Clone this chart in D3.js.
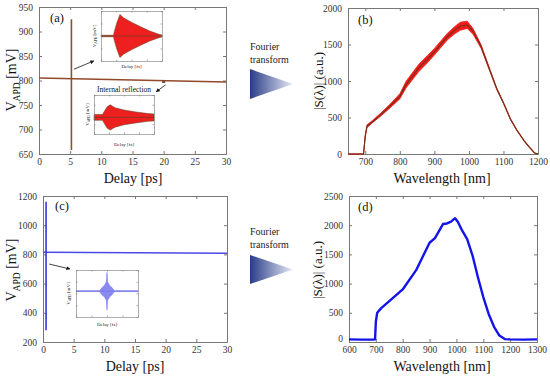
<!DOCTYPE html>
<html>
<head>
<meta charset="utf-8">
<script src="https://cdn.jsdelivr.net/npm/d3@7"></script>
<style>
body{margin:0;background:#fff}
svg text{font-family:"Liberation Serif","Times New Roman",serif}
</style>
</head>
<body>
<svg></svg>
<script>
const WIDTH = 550;
const HEIGHT = 378;
const FONT = '"Liberation Serif", "Times New Roman", serif';

// (a) delay scan, red/brown trace
const aBaseDelay = [0, 30];
const aBaseV = [805, 797];
const aSpikeDelay = [5.2, 5.2];
const aSpikeV = [925, 658];
const aMarkDelay = [20];
const aMarkV = [798];
const aXTicks = [0, 5, 10, 15, 20, 25, 30];
const aYTicks = [650, 700, 750, 800, 850, 900, 950];

// (c) delay scan, blue trace
const cBaseDelay = [0, 30];
const cBaseV = [815, 808];
const cSpikeDelay = [0.5, 0.5];
const cSpikeV = [1160, 280];
const cXTicks = [0, 5, 10, 15, 20, 25, 30];
const cYTicks = [200, 400, 600, 800, 1000, 1200];

// (b) spectrum
const bWl = [650, 690, 695, 700, 705, 720, 745, 770, 800, 818, 855, 880, 900, 938, 960, 975, 995, 1012, 1035, 1062, 1080, 1100, 1120, 1138, 1160, 1173, 1190, 1200];
const bS = [0, 0, 0, 250, 380, 440, 540, 650, 790, 950, 1180, 1300, 1400, 1610, 1700, 1750, 1770, 1680, 1475, 1130, 900, 700, 480, 333, 180, 105, 14, 0];
const bSpread = [0, 0, 0, 10, 20, 15, 20, 25, 35, 45, 50, 50, 45, 45, 50, 55, 50, 40, 25, 15, 10, 8, 8, 6, 5, 5, 3, 0];
const bXTicks = [700, 800, 900, 1000, 1100, 1200];
const bYTicks = [0, 500, 1000, 1500, 2000];

// (d) spectrum
const dWl = [600, 650, 690, 697, 700, 705, 720, 750, 800, 850, 900, 920, 950, 965, 980, 995, 1005, 1020, 1040, 1060, 1080, 1100, 1120, 1140, 1160, 1180, 1200, 1250, 1300];
const dS = [45, 40, 40, 45, 350, 500, 580, 700, 900, 1230, 1700, 1780, 2020, 2030, 2060, 2120, 2060, 1920, 1760, 1480, 1110, 770, 480, 260, 110, 50, 45, 40, 45];
const dXTicks = [600, 700, 800, 900, 1000, 1100, 1200, 1300];
const dYTicks = [0, 500, 1000, 1500, 2000, 2500];

// insets: delay [fs] vs envelope half-amplitude [mV]
const in1T = [0, 82, 86, 105, 124, 150, 200, 260, 320, 380, 400];
const in1Amp = [3, 3, 15, 55, 86, 72, 55, 37, 20, 7, 4];
const in2T = [0, 56, 68, 88, 108, 140, 200, 280, 360, 400];
const in2Amp = [15, 15, 30, 55, 65, 50, 38, 28, 20, 18];
const in3T = [0, 150, 160, 170, 184, 196, 200, 204, 216, 230, 240, 250, 400];
const in3Amp = [2, 2, 8, 17, 25, 40, 80, 40, 25, 17, 8, 2, 2];

const svg = d3.select('svg').
attr('width', WIDTH).
attr('height', HEIGHT).
attr('font-family', FONT);

svg.append('rect').attr('width', WIDTH).attr('height', HEIGHT).attr('fill', '#fff');

const defs = svg.append('defs');
defs.append('marker').
attr('id', 'head').
attr('viewBox', '0 0 10 10').
attr('refX', 9).attr('refY', 5).
attr('markerWidth', 5).attr('markerHeight', 5).
attr('orient', 'auto').
append('path').attr('d', 'M0,0L10,5L0,10Z').attr('fill', '#111');

const grad = defs.append('linearGradient').attr('id', 'tri');
grad.append('stop').attr('offset', '0%').attr('stop-color', '#2a3c88');
grad.append('stop').attr('offset', '100%').attr('stop-color', '#e6eaf5');

const fmt = d3.format('d');

function frame(g, x, y, xTicks, yTicks, o) {
  const fs = o.fs || 9.5;
  const k = o.tick || 3;
  const x0 = x.range()[0], x1 = x.range()[1];
  const y0 = y.range()[1], y1 = y.range()[0];

  const axB = d3.axisBottom(x).tickSizeInner(-k).tickSizeOuter(0).tickPadding(o.padX || 4).tickFormat(fmt);
  const axL = d3.axisLeft(y).tickSizeInner(-k).tickSizeOuter(0).tickPadding(o.padY || 6).tickFormat(fmt);
  if (xTicks) axB.tickValues(xTicks); else axB.ticks(5);
  if (yTicks) axL.tickValues(yTicks); else axL.ticks(6);
  if (o.noLabels) { axB.tickFormat(''); axL.tickFormat(''); }

  const axT = d3.axisTop(x).tickSizeInner(-k).tickSizeOuter(0).tickFormat('');
  const axR = d3.axisRight(y).tickSizeInner(-k).tickSizeOuter(0).tickFormat('');
  if (xTicks) axT.tickValues(xTicks); else axT.ticks(5);
  if (yTicks) axR.tickValues(yTicks); else axR.ticks(6);

  const parts = [
    g.append('g').attr('transform', `translate(0,${y1})`).call(axB),
    g.append('g').attr('transform', `translate(${x0},0)`).call(axL),
    g.append('g').attr('transform', `translate(0,${y0})`).call(axT),
    g.append('g').attr('transform', `translate(${x1},0)`).call(axR)];

  parts.forEach(p => {
    p.attr('font-family', FONT);
    p.selectAll('path').attr('stroke', '#777').attr('stroke-width', o.sw || 1);
    p.selectAll('line').attr('stroke', '#777').attr('stroke-width', o.sw || 1);
    p.selectAll('text').attr('font-size', fs).attr('fill', '#333');
  });
  return parts;
}

function yLabel(g, cx, cy, size, parts) {
  const t = g.append('text').
  attr('transform', `translate(${cx},${cy}) rotate(-90)`).
  attr('text-anchor', 'middle').
  attr('font-size', size).
  attr('fill', '#111');
  parts(t);
}

function vapd(t, size) {
  t.append('tspan').text('V');
  t.append('tspan').attr('font-size', size * 0.68).attr('dy', size * 0.25).text('APD');
  t.append('tspan').attr('dy', -size * 0.25).text(' [mV]');
}

function scan(box, xDom, yDom) {
  return {
    x: d3.scaleLinear().domain(xDom).range([box[0], box[1]]),
    y: d3.scaleLinear().domain(yDom).range([box[3], box[2]])
  };
}

const line = (x, y) => d3.line().x(d => x(d[0])).y(d => y(d[1]));

/* -- (a) -- */
{
  const { x, y } = scan([39, 226, 7, 154], [0, 30], [650, 950]);
  const g = svg.append('g');
  frame(g, x, y, aXTicks, aYTicks, {});
  g.append('path').datum(d3.zip(aBaseDelay, aBaseV)).
  attr('d', line(x, y)).attr('fill', 'none').attr('stroke', '#93472b').attr('stroke-width', 1.4);
  g.append('path').datum(d3.zip(aSpikeDelay, aSpikeV)).
  attr('d', line(x, y)).attr('fill', 'none').attr('stroke', '#85562a').attr('stroke-width', 1.6);
  g.selectAll('rect.mk').data(d3.zip(aMarkDelay, aMarkV)).enter().append('rect').
  attr('x', d => x(d[0]) - 1.5).attr('y', d => y(d[1]) - 1.5).
  attr('width', 3).attr('height', 3).attr('fill', '#7b4a2c');

  g.append('text').attr('x', 50).attr('y', 22).attr('font-size', 12.5).attr('fill', '#111').text('(a)');
  g.append('text').attr('x', 133).attr('y', 183).attr('text-anchor', 'middle').
  attr('font-size', 14).attr('fill', '#111').text('Delay [ps]');
  yLabel(g, 16, 80, 14, t => vapd(t, 14));

  g.append('line').
  attr('x1', x(5.6)).attr('y1', y(823)).attr('x2', x(8.8)).attr('y2', y(840)).
  attr('stroke', '#111').attr('stroke-width', 0.8).attr('marker-end', 'url(#head)');
  g.append('line').
  attr('x1', x(20.3)).attr('y1', y(791)).attr('x2', x(18.8)).attr('y2', y(777)).
  attr('stroke', '#111').attr('stroke-width', 0.8).attr('marker-end', 'url(#head)');
}

/* -- (c) -- */
{
  const { x, y } = scan([43, 227, 196, 342], [0, 30], [200, 1200]);
  const g = svg.append('g');
  frame(g, x, y, cXTicks, cYTicks, {});
  g.append('path').datum(d3.zip(cBaseDelay, cBaseV)).
  attr('d', line(x, y)).attr('fill', 'none').attr('stroke', '#4a4ae6').attr('stroke-width', 1.4);
  g.append('path').datum(d3.zip(cSpikeDelay, cSpikeV)).
  attr('d', line(x, y)).attr('fill', 'none').attr('stroke', '#3535dd').attr('stroke-width', 1.6);

  g.append('text').attr('x', 55).attr('y', 210).attr('font-size', 12.5).attr('fill', '#111').text('(c)');
  g.append('text').attr('x', 135).attr('y', 371).attr('text-anchor', 'middle').
  attr('font-size', 14).attr('fill', '#111').text('Delay [ps]');
  yLabel(g, 16, 270, 14, t => vapd(t, 14));

  g.append('line').
  attr('x1', x(1.0)).attr('y1', y(734)).attr('x2', x(4.4)).attr('y2', y(700)).
  attr('stroke', '#111').attr('stroke-width', 0.8).attr('marker-end', 'url(#head)');
}

/* -- (b) -- */
{
  const { x, y } = scan([348, 538, 8, 154], [650, 1200], [0, 2000]);
  const g = svg.append('g');
  frame(g, x, y, bXTicks, bYTicks, {});
  const pts = d3.zip(bWl, bS, bSpread);
  g.append('path').datum(pts).
  attr('d', d3.area().x(d => x(d[0])).y0(d => y(d[1] - d[2])).y1(d => y(d[1] + d[2]))).
  attr('fill', '#f21c1c').attr('stroke', '#f21c1c').attr('stroke-width', 0.8);
  g.append('path').datum(pts).
  attr('d', line(x, y)).attr('fill', 'none').attr('stroke', '#6e3318').attr('stroke-width', 1.1);

  g.append('text').attr('x', 358).attr('y', 24).attr('font-size', 12.5).attr('fill', '#111').text('(b)');
  g.append('text').attr('x', 442).attr('y', 183).attr('text-anchor', 'middle').
  attr('font-size', 14).attr('fill', '#111').text('Wavelength [nm]');
  yLabel(g, 323, 81, 13, t => t.text('|S(λ)| (a.u.)'));
}

/* -- (d) -- */
{
  const { x, y } = scan([349, 537, 196, 342], [600, 1300], [0, 2500]);
  const g = svg.append('g');
  const parts = frame(g, x, y, dXTicks, dYTicks, {});
  // lift the "0" label a little so it clears the "600" below it
  parts[1].selectAll('text').filter(d => d === 0).attr('dy', '-0.05em');
  g.append('path').datum(d3.zip(dWl, dS)).
  attr('d', line(x, y)).attr('fill', 'none').attr('stroke', '#1414e8').attr('stroke-width', 2.4).
  attr('stroke-linejoin', 'round');

  g.append('text').attr('x', 358).attr('y', 211).attr('font-size', 12.5).attr('fill', '#111').text('(d)');
  g.append('text').attr('x', 442).attr('y', 371).attr('text-anchor', 'middle').
  attr('font-size', 14).attr('fill', '#111').text('Wavelength [nm]');
  yLabel(g, 322, 270, 13, t => t.text('|S(λ)| (a.u.)'));
}

/* -- insets -- */
function inset(box, t, amp, base, fill, edge, labelY, labelX, title) {
  const { x, y } = scan(box, [0, 400], [700, 900]);
  const g = svg.append('g');
  g.append('rect').attr('x', box[0]).attr('y', box[2]).
  attr('width', box[1] - box[0]).attr('height', box[3] - box[2]).attr('fill', '#fff');
  const pts = d3.zip(t, amp);
  g.append('path').datum(pts).
  attr('d', d3.area().x(d => x(d[0])).y0(d => y(base - d[1])).y1(d => y(base + d[1]))).
  attr('fill', fill).attr('stroke', edge).attr('stroke-width', 0.5);
  g.append('line').attr('x1', x(0)).attr('x2', x(400)).attr('y1', y(base)).attr('y2', y(base)).
  attr('stroke', edge).attr('stroke-width', 0.6);
  frame(g, x, y, null, null, { noLabels: true, tick: 1.5, sw: 0.6 });
  g.append('text').attr('x', (box[0] + box[1]) / 2).attr('y', labelY).
  attr('text-anchor', 'middle').attr('font-size', 5).attr('fill', '#222').text('Delay [fs]');
  yLabel(g, labelX, (box[2] + box[3]) / 2, 5, tt => vapd(tt, 5));
  if (title) {
    g.append('text').attr('x', (box[0] + box[1]) / 2).attr('y', box[2] - 3).
    attr('text-anchor', 'middle').attr('font-size', 7.5).attr('fill', '#111').text(title);
  }
}

inset([101, 162, 11, 61], in1T, in1Amp, 800, '#ee1f1f', '#4d4a22', 68, 96);
inset([94, 154, 95, 134], in2T, in2Amp, 785, '#ee1f1f', '#4d4a22', 146, 89, 'Internal reflection');
inset([76, 138, 270, 317], in3T, in3Amp, 810, '#8a8af2', '#6f6fe8', 326, 70);

/* -- Fourier transform arrows -- */
[[50, 63, 69, 99], [235, 248, 255, 284]].forEach(([b1, b2, t0, t1]) => {
  svg.append('text').attr('x', 250).attr('y', b1).attr('font-size', 10).attr('fill', '#222').text('Fourier');
  svg.append('text').attr('x', 250).attr('y', b2).attr('font-size', 10).attr('fill', '#222').text('transform');
  svg.append('path').
  attr('d', `M250,${t0}L293,${(t0 + t1) / 2}L250,${t1}Z`).
  attr('fill', 'url(#tri)');
});
</script>
</body>
</html>
